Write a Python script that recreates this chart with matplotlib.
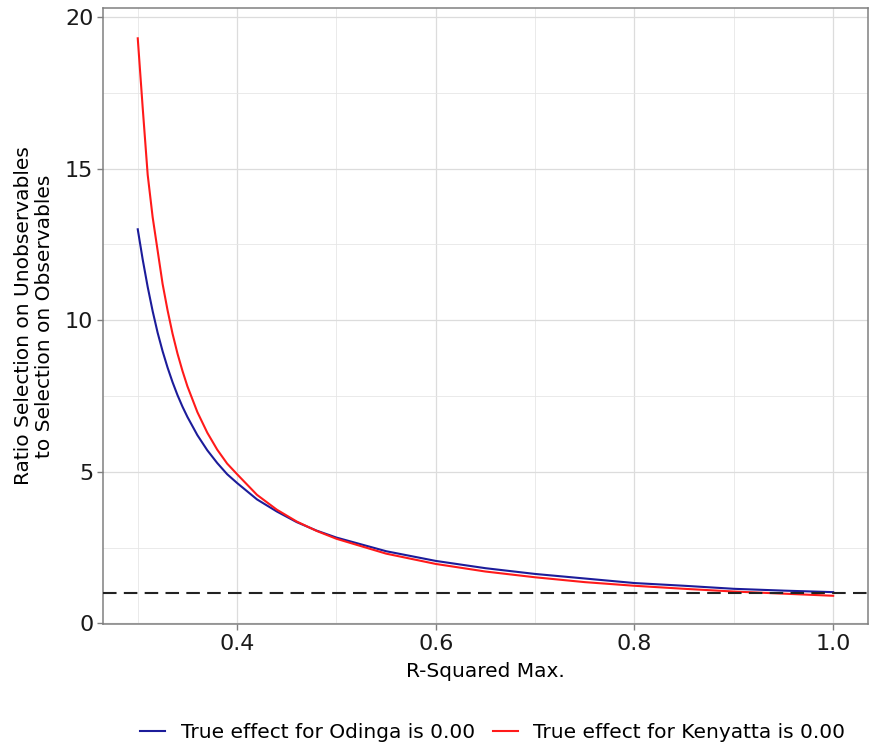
import matplotlib
matplotlib.use('Agg')
import matplotlib.pyplot as plt
import numpy as np

plt.rcParams['font.family'] = ['DejaVu Sans']

# R-squared max values (x) and ratio delta values
rmax = [0.30, 0.305, 0.31, 0.315, 0.32, 0.325, 0.33, 0.335, 0.34, 0.345, 0.35,
        0.36, 0.37, 0.38, 0.39, 0.40, 0.42, 0.44, 0.46, 0.48, 0.50, 0.55,
        0.60, 0.65, 0.70, 0.75, 0.80, 0.85, 0.90, 0.95, 1.00]
odinga = [13.0, 12.0, 11.1, 10.3, 9.59, 8.98, 8.44, 7.96, 7.53, 7.15, 6.81,
          6.21, 5.71, 5.29, 4.92, 4.63, 4.09, 3.69, 3.34, 3.06, 2.83, 2.38,
          2.06, 1.82, 1.63, 1.48, 1.33, 1.24, 1.14, 1.08, 1.03]
kenyatta = [19.3, 17.0, 14.8, 13.4, 12.3, 11.2, 10.33, 9.56, 8.90, 8.33, 7.82,
            6.97, 6.29, 5.73, 5.27, 4.92, 4.24, 3.75, 3.36, 3.05, 2.79, 2.30,
            1.96, 1.71, 1.52, 1.36, 1.24, 1.14, 1.05, 0.98, 0.91]

labels = ['True effect for Odinga is 0.00', 'True effect for Kenyatta is 0.00']
xticks = [0.4, 0.6, 0.8, 1.0]
yticks = [0, 5, 10, 15, 20]

fig = plt.figure(figsize=(8.69, 7.47), dpi=100)
ax = fig.add_axes([0.1185, 0.1647, 0.8803, 0.8246])

ax.plot(rmax, odinga, color='#1c1c9a', lw=1.5, label=labels[0], zorder=3)
ax.plot(rmax, kenyatta, color='#ff1a1a', lw=1.5, label=labels[1], zorder=3)
ax.axhline(1, color='#222222', lw=1.5, dashes=(6.5, 3.5), zorder=4)

ax.set_xlim(0.265, 1.035)
ax.set_ylim(-0.02, 20.3)
ax.set_xticks(xticks)
ax.set_xticklabels(['%.1f' % v for v in xticks])
ax.set_yticks(yticks)
ax.set_xticks([0.3, 0.5, 0.7, 0.9], minor=True)
ax.set_yticks([2.5, 7.5, 12.5, 17.5], minor=True)
ax.grid(which='major', color='#dcdcdc', lw=0.9)
ax.grid(which='minor', color='#e6e6e6', lw=0.6)
ax.set_axisbelow(True)

ax.tick_params(which='major', direction='out', length=4, width=1, color='#808080',
               labelsize=16, labelcolor='#1a1a1a', pad=3)
ax.tick_params(which='minor', length=0)
for s in ax.spines.values():
    s.set_color('#808080')
    s.set_linewidth(1.1)

ax.set_xlabel('R-Squared Max.', fontsize=14.5, labelpad=6)
ax.set_ylabel('Ratio Selection on Unobservables\nto Selection on Observables',
              fontsize=14.5, labelpad=8, linespacing=1.1)

fig.legend(loc='center', bbox_to_anchor=(0.567, 0.019), ncol=2, frameon=False,
           fontsize=14.5, handlelength=1.25, handletextpad=0.75, columnspacing=0.9)

fig.savefig('out.png', dpi=100)
